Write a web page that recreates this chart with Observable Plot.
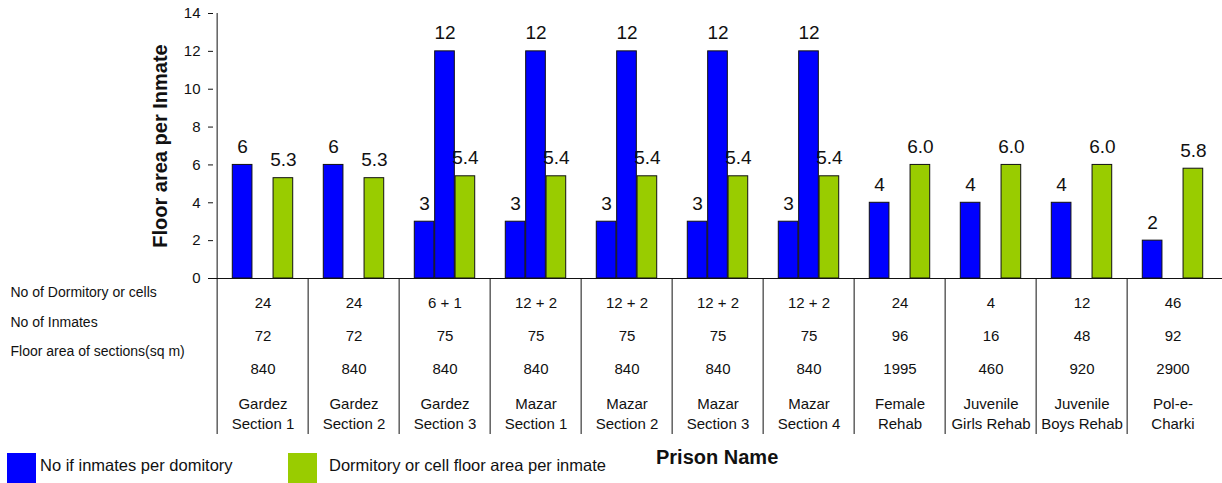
<!DOCTYPE html>
<html>
<head>
<meta charset="utf-8">
<script src="https://cdn.jsdelivr.net/npm/d3@7"></script>
<script src="https://cdn.jsdelivr.net/npm/@observablehq/plot@0.6"></script>
<style>
  html, body { margin: 0; padding: 0; background: #fff; }
  body { width: 1222px; height: 483px; overflow: hidden; font-family: "Liberation Sans", Arial, sans-serif; }
  #legend { position: relative; width: 1222px; height: 35px; font-size: 16.5px; color: #111; }
  #legend .sw { position: absolute; width: 29px; height: 30px; }
  #legend .lbl { position: absolute; white-space: nowrap; }
  #legend .xt { position: absolute; font-weight: bold; font-size: 20px; white-space: nowrap; }
</style>
</head>
<body>
<div id="chart"></div>
<div id="legend"></div>
<script>
// ---- data ----
const prisons = ["Gardez\nSection 1","Gardez\nSection 2","Gardez\nSection 3","Mazar\nSection 1","Mazar\nSection 2","Mazar\nSection 3","Mazar\nSection 4","Female\nRehab","Juvenile\nGirls Rehab","Juvenile\nBoys Rehab","Pol-e-\nCharki"];
const rowLabels = ["No of Dormitory or cells", "No of Inmates", "Floor area of sections(sq m)"];
const dormitories = ["24","24","6 + 1","12 + 2","12 + 2","12 + 2","12 + 2","24","4","12","46"];
const inmates = [72,72,75,75,75,75,75,96,16,48,92];
const floorArea = [840,840,840,840,840,840,840,1995,460,920,2900];
const inmatesPerDorm = [6,6,3,3,3,3,3,4,4,4,2];
const inmatesPerDorm2 = [null,null,12,12,12,12,12,null,null,null,null];
const floorPerInmate = [5.3,5.3,5.4,5.4,5.4,5.4,5.4,6.0,6.0,6.0,5.8];
const yTicks = [0,2,4,6,8,10,12,14];
const seriesNames = ["No if inmates per domitory", "Dormitory or cell floor area per inmate"];
const seriesColors = ["#0000ff", "#99cc00"];
const yTitle = "Floor area per Inmate";
const xTitle = "Prison Name";

// ---- layout ----
const W = 1222, H = 448, mL = 213, mR = 0, mT = 13, mB = 170;
const bw = (W - mL - mR) / prisons.length;   // band width
const slot = bw / 4.5;                        // bar width
const pad = slot * 0.75;

const toRows = (vals, fmt) => vals.map((v, i) => ({prison: prisons[i], value: v, label: v == null ? null : fmt(v)})).filter(d => d.value != null);
const serA = toRows(inmatesPerDorm, v => String(v));
const serB = toRows(inmatesPerDorm2, v => String(v));
const serC = toRows(floorPerInmate, v => v.toFixed(1));

const barStyle = {stroke: "#111", strokeWidth: 1};
const labelStyle = {fontSize: 19, fill: "#111", lineAnchor: "bottom", dy: -12};
const tableFont = 15;

const tableRows = [dormitories, inmates, floorArea];
const tableDy = [24.7, 57.7, 91];
const rowLabelDy = [14.3, 43.7, 73];

const marks = [
  Plot.barY(serA, {x: "prison", y: "value", fill: seriesColors[0], insetLeft: pad, insetRight: bw - pad - slot, ...barStyle}),
  Plot.barY(serB, {x: "prison", y: "value", fill: seriesColors[0], insetLeft: pad + slot, insetRight: pad + slot, ...barStyle}),
  Plot.barY(serC, {x: "prison", y: "value", fill: seriesColors[1], insetLeft: pad + 2 * slot, insetRight: pad, ...barStyle}),
  Plot.text(serA, {x: "prison", y: "value", text: "label", dx: -slot, ...labelStyle}),
  Plot.text(serB, {x: "prison", y: "value", text: "label", ...labelStyle}),
  Plot.text(serC, {x: "prison", y: "value", text: "label", dx: slot, ...labelStyle}),
  Plot.ruleY([0], {stroke: "#111"}),
  // y-axis line continuing into the table
  Plot.ruleX([prisons[0]], {dx: -bw / 2, stroke: "#111", insetBottom: -156}),
  // table column separators
  Plot.ruleX(prisons.slice(1), {dx: -bw / 2, stroke: "#111", insetTop: H - mT - mB, insetBottom: -156}),
  Plot.text([yTitle], {frameAnchor: "left", textAnchor: "middle", lineAnchor: "middle", rotate: -90, dx: -53, fontSize: 20, fontWeight: "bold", fill: "#111"})
];
tableRows.forEach((row, r) => {
  marks.push(Plot.text(prisons, {x: d => d, text: (d, i) => String(row[i]), frameAnchor: "bottom", lineAnchor: "middle", dy: tableDy[r], fontSize: tableFont, fill: "#111"}));
  marks.push(Plot.text([rowLabels[r]], {frameAnchor: "bottom-left", textAnchor: "start", lineAnchor: "middle", dx: -203, dy: rowLabelDy[r], fontSize: 14, fill: "#111"}));
});
marks.push(Plot.text(prisons, {x: d => d, text: d => d, frameAnchor: "bottom", lineAnchor: "middle", dy: 133.7, lineHeight: 1.333, fontSize: tableFont, fill: "#111"}));

const chart = Plot.plot({
  width: W, height: H,
  marginLeft: mL, marginRight: mR, marginTop: mT, marginBottom: mB,
  style: {fontFamily: "'Liberation Sans', Arial, sans-serif", fontSize: "15px", color: "#111", background: "#fff"},
  x: {domain: prisons, padding: 0, axis: null},
  y: {domain: [0, 14], ticks: yTicks, tickSize: 5, tickPadding: 8, label: null},
  marks
});
document.getElementById("chart").appendChild(chart);

// ---- legend ----
const lg = document.getElementById("legend");
const items = [{x: 7, tx: 40}, {x: 288, tx: 329}];
items.forEach((it, i) => {
  const s = document.createElement("div");
  s.className = "sw"; s.style.left = it.x + "px"; s.style.top = "5px"; s.style.background = seriesColors[i];
  lg.appendChild(s);
  const t = document.createElement("div");
  t.className = "lbl"; t.style.left = it.tx + "px"; t.style.top = "8px"; t.textContent = seriesNames[i];
  lg.appendChild(t);
});
const xt = document.createElement("div");
xt.className = "xt"; xt.style.left = "656px"; xt.style.top = "-2px"; xt.textContent = xTitle;
lg.appendChild(xt);
</script>
</body>
</html>
